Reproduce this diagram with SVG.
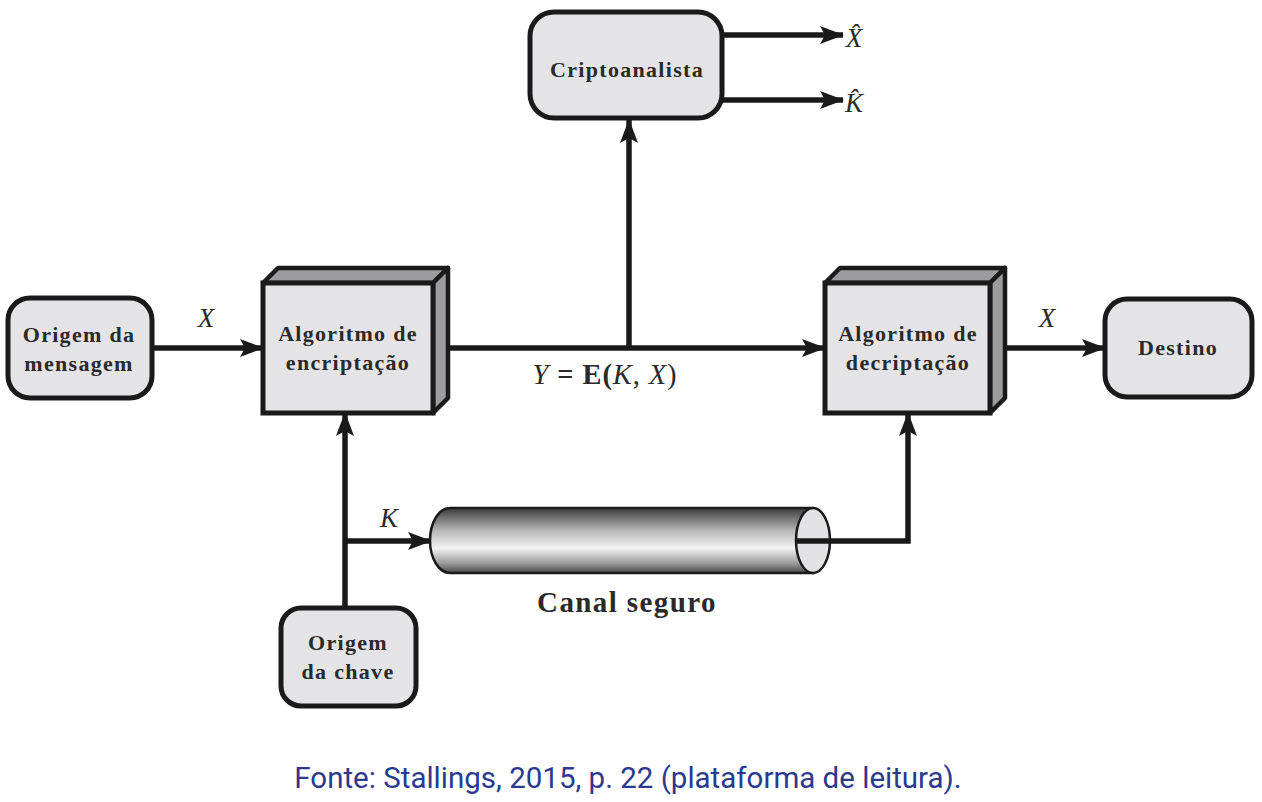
<svg xmlns="http://www.w3.org/2000/svg" width="1262" height="802" viewBox="0 0 1262 802">
<style>
.box{fill:#e4e4e6;stroke:#1a1a1a;stroke-width:5}
.side{fill:#9c9c9e;stroke:#1a1a1a;stroke-width:4.5;stroke-linejoin:round}
.lbl{font-family:"Liberation Serif",serif;font-weight:bold;font-size:22px;fill:#2a2a2a;text-anchor:middle;letter-spacing:1.3px}
.var{font-family:"Liberation Serif",serif;font-style:italic;font-size:27px;fill:#2a2a2a;text-anchor:middle}
.conn{fill:none;stroke:#1a1a1a;stroke-width:5.5;stroke-linejoin:miter}
.cap{font-family:Roboto,"Liberation Sans",sans-serif;font-size:29.5px;fill:#2b3990;text-anchor:middle}
</style>
<defs>
<marker id="ah" markerWidth="24" markerHeight="18" refX="23" refY="9" orient="auto" markerUnits="userSpaceOnUse">
<path d="M0,0 L24,9 L0,18 L5,9 Z" fill="#1a1a1a"/>
</marker>
<linearGradient id="cyl" x1="0" y1="0" x2="0" y2="1">
<stop offset="0" stop-color="#3a3a3a"/>
<stop offset="0.35" stop-color="#b8b8b8"/>
<stop offset="0.62" stop-color="#f4f4f4"/>
<stop offset="0.85" stop-color="#9a9a9a"/>
<stop offset="1" stop-color="#4a4a4a"/>
</linearGradient>
</defs>
<rect width="1262" height="802" fill="#ffffff"/>

<g id="connectors">
<line class="conn" x1="152" y1="348" x2="263" y2="348" marker-end="url(#ah)"/>
<line class="conn" x1="446" y1="348" x2="825" y2="348" marker-end="url(#ah)"/>
<line class="conn" x1="629" y1="348" x2="629" y2="120" marker-end="url(#ah)"/>
<line class="conn" x1="722" y1="35" x2="843" y2="35" marker-end="url(#ah)"/>
<line class="conn" x1="722" y1="100" x2="843" y2="100" marker-end="url(#ah)"/>
<line class="conn" x1="1003" y1="348" x2="1105" y2="348" marker-end="url(#ah)"/>
<line class="conn" x1="345" y1="608" x2="345" y2="413" marker-end="url(#ah)"/>
<line class="conn" x1="345" y1="541" x2="431" y2="541" marker-end="url(#ah)"/>
<path class="conn" d="M797,541 H908 V413" marker-end="url(#ah)"/>
<text class="var" x="206" y="327">X</text>
<text class="var" x="1047" y="327">X</text>
<text class="var" x="389" y="527">K</text>
<text class="var" x="854" y="47">X&#x302;</text>
<text class="var" x="854" y="112">K&#x302;</text>
<text x="605" y="384" style="font-family:'Liberation Serif',serif;font-size:28.5px;fill:#2a2a2a;text-anchor:middle;letter-spacing:0.9px"><tspan font-style="italic">Y</tspan><tspan font-weight="bold"> = E(</tspan><tspan font-style="italic">K</tspan>, <tspan font-style="italic">X</tspan>)</text>
</g>

<g id="criptoanalista">
<rect class="box" x="530" y="12" width="192" height="106" rx="24"/>
<text class="lbl" x="627" y="77">Criptoanalista</text>
</g>

<g id="origem-mensagem">
<rect class="box" x="8" y="298" width="144" height="100" rx="22"/>
<text class="lbl" x="79" y="342">Origem da</text>
<text class="lbl" x="79" y="371">mensagem</text>
</g>

<g id="encriptacao">
<path class="side" d="M263,283 L278,268 L448,268 L433,283 Z"/>
<path class="side" d="M433,283 L448,268 L448,398 L433,413 Z"/>
<rect class="box" x="263" y="283" width="170" height="130"/>
<text class="lbl" x="348" y="341">Algoritmo de</text>
<text class="lbl" x="348" y="370">encriptação</text>
</g>

<g id="decriptacao">
<path class="side" d="M825,283 L840,268 L1005,268 L990,283 Z"/>
<path class="side" d="M990,283 L1005,268 L1005,398 L990,413 Z"/>
<rect class="box" x="825" y="283" width="165" height="130"/>
<text class="lbl" x="908" y="341">Algoritmo de</text>
<text class="lbl" x="908" y="370">decriptação</text>
</g>

<g id="destino">
<rect class="box" x="1105" y="299" width="147" height="98" rx="22"/>
<text class="lbl" x="1178" y="355">Destino</text>
</g>

<g id="canal-seguro">
<path d="M813,508 H450 A20,32.5 0 0 0 450,573 H813 Z" fill="url(#cyl)" stroke="#1a1a1a" stroke-width="2.5"/>
<ellipse cx="813" cy="540.5" rx="17" ry="32.5" fill="#e2e2e4" stroke="#1a1a1a" stroke-width="2.5"/>
<line x1="797" y1="541" x2="830" y2="541" stroke="#1a1a1a" stroke-width="5.5"/>
<text x="627" y="612" style="font-family:'Liberation Serif',serif;font-weight:bold;font-size:29px;fill:#2a2a2a;text-anchor:middle;letter-spacing:1.4px">Canal seguro</text>
</g>

<g id="origem-chave">
<rect class="box" x="281" y="608" width="135" height="98" rx="20"/>
<text class="lbl" x="348" y="650">Origem</text>
<text class="lbl" x="348" y="679">da chave</text>
</g>

<text class="cap" x="628" y="788">Fonte: Stallings, 2015, p. 22 (plataforma de leitura).</text>
</svg>
